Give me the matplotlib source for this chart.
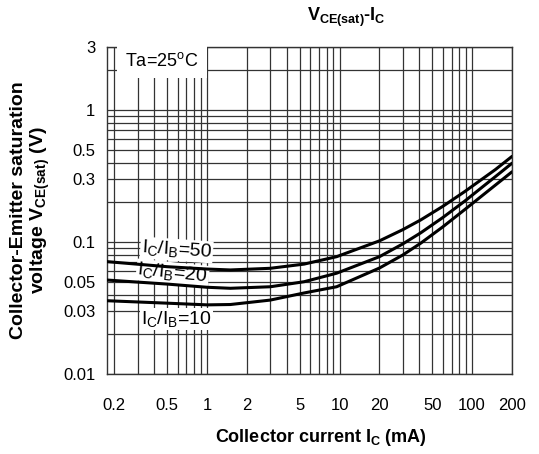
import matplotlib
matplotlib.use("Agg")
import matplotlib.pyplot as plt
from matplotlib.ticker import FixedLocator, FixedFormatter, LogLocator, NullFormatter

plt.rcParams["font.family"] = ["Liberation Sans", "DejaVu Sans"]
plt.rcParams["mathtext.fontset"] = "custom"
plt.rcParams["mathtext.rm"] = "Liberation Sans"
plt.rcParams["mathtext.it"] = "Liberation Sans:italic"
plt.rcParams["mathtext.bf"] = "Liberation Sans:bold"

# collector current (mA) and VCE(sat) (V)
ic_ma = [0.176, 0.5, 1.0, 1.5, 3.0, 5.4, 9.5, 20, 30, 41, 60, 88, 150, 200]
vce_50 = [0.071, 0.065, 0.0624, 0.0614, 0.0632, 0.068, 0.0774, 0.102, 0.124,
          0.147, 0.186, 0.241, 0.354, 0.445]
vce_20 = [0.0515, 0.048, 0.0454, 0.0446, 0.0458, 0.050, 0.058, 0.0774, 0.0967,
          0.1174, 0.153, 0.204, 0.313, 0.395]
vce_10 = [0.0359, 0.0344, 0.0334, 0.0336, 0.0363, 0.0411, 0.0458, 0.0635,
          0.0797, 0.098, 0.130, 0.176, 0.270, 0.340]

x_ticks = [0.2, 0.5, 1, 2, 5, 10, 20, 50, 100, 200]
x_labels = ["0.2", "0.5", "1", "2", "5", "10", "20", "50", "100", "200"]
y_ticks = [0.01, 0.03, 0.05, 0.1, 0.3, 0.5, 1, 3]
y_labels = ["0.01", "0.03", "0.05", "0.1", "0.3", "0.5", "1", "3"]

fig = plt.figure(figsize=(5.39, 4.54), dpi=100)
ax = fig.add_axes([107 / 539, 80 / 454, 405 / 539, 327 / 454])
ax.set_xscale("log")
ax.set_yscale("log")
ax.set_xlim(0.176, 200)
ax.set_ylim(0.01, 3)

for vals in (vce_50, vce_20, vce_10):
    ax.plot(ic_ma, vals, color="black", lw=2.2, solid_capstyle="round",
            solid_joinstyle="round", zorder=4)

# grid at every 1..9 multiple
for axis in (ax.xaxis, ax.yaxis):
    axis.set_minor_locator(LogLocator(base=10, subs=range(1, 10), numticks=20))
    axis.set_minor_formatter(NullFormatter())
ax.xaxis.set_major_locator(FixedLocator(x_ticks))
ax.xaxis.set_major_formatter(FixedFormatter(x_labels))
ax.yaxis.set_major_locator(FixedLocator(y_ticks))
ax.yaxis.set_major_formatter(FixedFormatter(y_labels))
ax.grid(which="both", color="#333333", lw=0.9, zorder=1)
ax.set_axisbelow(True)
ax.tick_params(which="both", length=0)
ax.tick_params(axis="x", pad=17, labelsize=12)
ax.tick_params(axis="y", pad=8.5, labelsize=12)
for sp in ax.spines.values():
    sp.set_color("#333333")
    sp.set_linewidth(1.0)

box = dict(facecolor="white", edgecolor="none", boxstyle="square,pad=0.05")
ax.text(0.59, 0.087, r"I$_{\rm C}$/I$_{\rm B}$=50", fontsize=14, rotation=-4,
        ha="center", va="center", bbox=box, zorder=3)
ax.text(0.55, 0.058, r"I$_{\rm C}$/I$_{\rm B}$=20", fontsize=14, rotation=-6,
        ha="center", va="center", bbox=box, zorder=3)
ax.text(0.59, 0.026, r"I$_{\rm C}$/I$_{\rm B}$=10", fontsize=14,
        ha="center", va="center", bbox=box, zorder=3)
ax.text(0.045, 0.985, r"Ta=25$^{\rm o}$C", transform=ax.transAxes, fontsize=13,
        ha="left", va="top",
        bbox=dict(facecolor="white", edgecolor="none", boxstyle="square,pad=0.45"),
        zorder=3)

fig.text(346 / 539, 1 - 17 / 454, r"V$_{\bf CE(sat)}$-I$_{\bf C}$", fontsize=13,
         fontweight="bold", ha="center", va="center")
fig.text(321 / 539, 1 - 438 / 454, r"Collector current I$_{\bf C}$ (mA)",
         fontsize=13, fontweight="bold", ha="center", va="center")
fig.text(31 / 539, 1 - 210 / 454,
         "Collector-Emitter saturation\n" + r"voltage V$_{\bf CE(sat)}$ (V)",
         fontsize=14, fontweight="bold", rotation=90, ha="center", va="center",
         multialignment="center", linespacing=1.1)

fig.savefig("out.png", dpi=100)
